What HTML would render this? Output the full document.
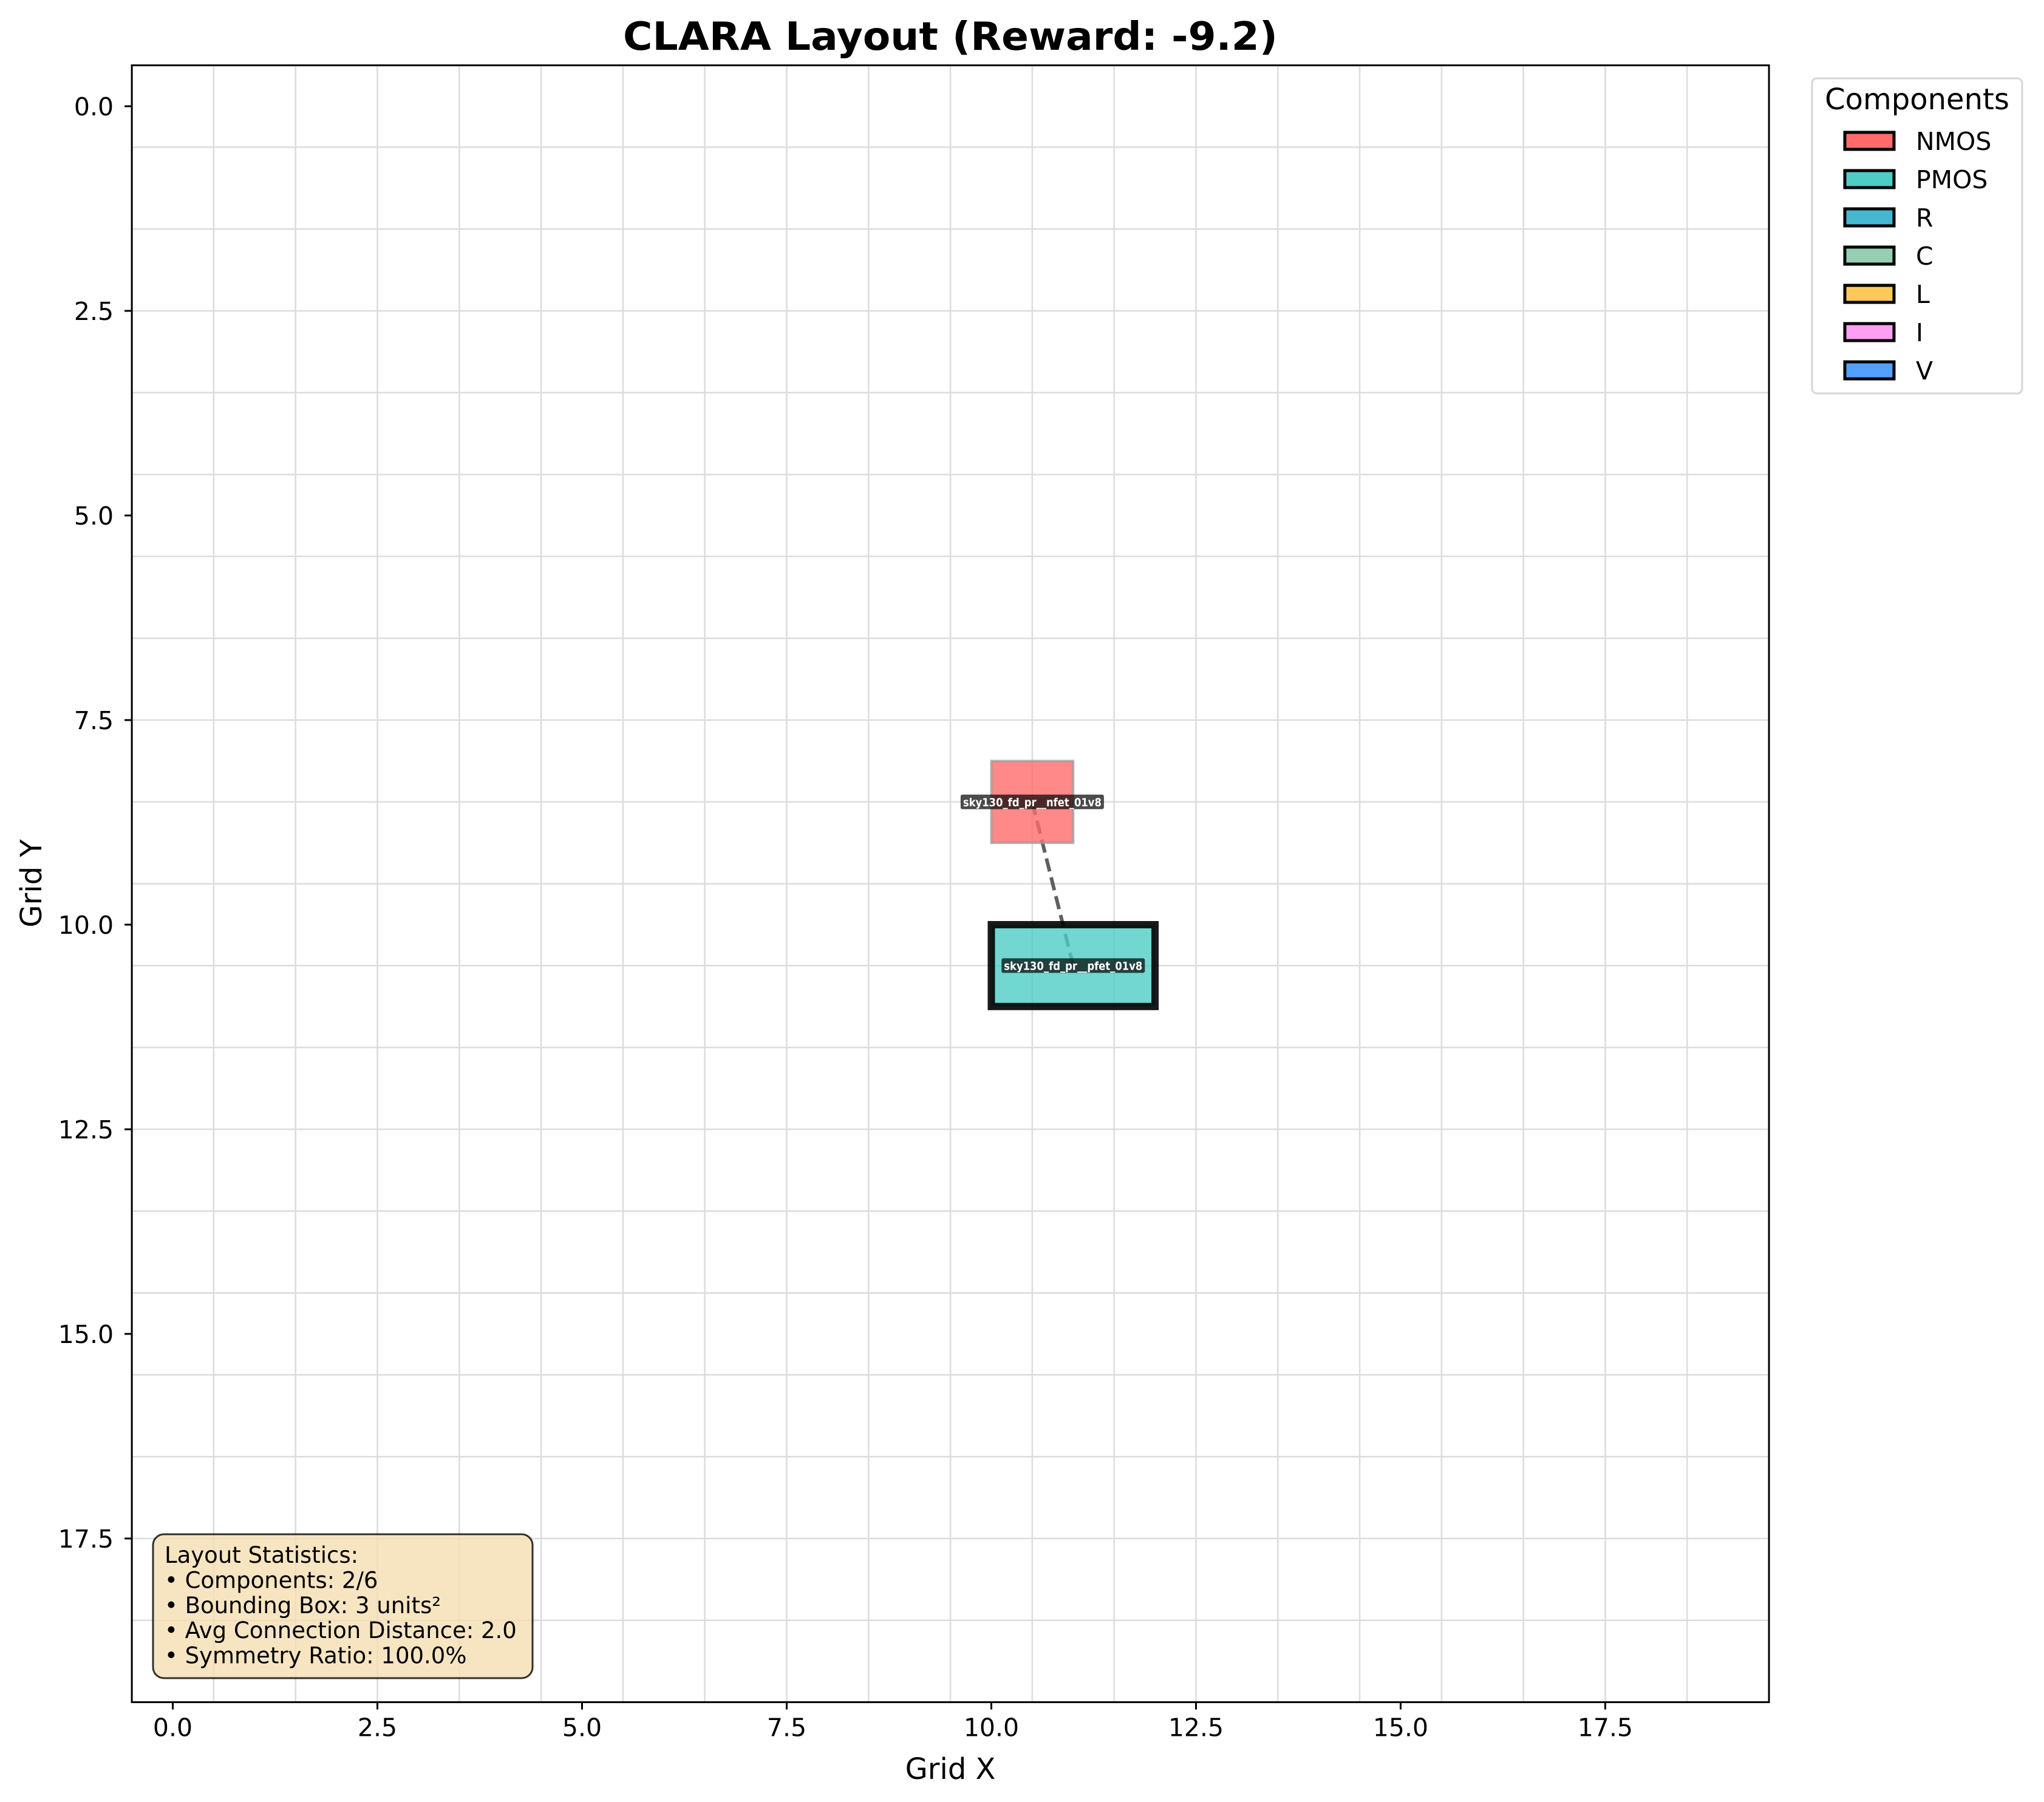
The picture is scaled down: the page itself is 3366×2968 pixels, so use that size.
<!DOCTYPE html>
<html><head><meta charset="utf-8"><style>
html,body{margin:0;padding:0;background:#fff}
svg{display:block;font-family:"DejaVu Sans","Liberation Sans",sans-serif}
</style></head><body>
<svg id="chart" width="3366" height="2968" viewBox="0 0 3366 2968" xmlns="http://www.w3.org/2000/svg">
<rect x="0" y="0" width="3366" height="2968" fill="#fff"/>
<g id="grid"></g>
<g id="marks"></g>
<g id="axes"></g>
<text x="1565" y="82" text-anchor="middle" font-size="64" font-weight="bold" textLength="1078" lengthAdjust="spacingAndGlyphs">CLARA Layout (Reward: -9.2)</text>
<text x="1565" y="2930" text-anchor="middle" font-size="48">Grid X</text>
<text x="0" y="0" transform="translate(68,1455) rotate(-90)" text-anchor="middle" font-size="48">Grid Y</text>
<g>
<rect x="252" y="2527" width="625" height="237" rx="18" fill="#f5deb3" fill-opacity="0.8" stroke="#000" stroke-opacity="0.8" stroke-width="3"/>
<text font-size="37" x="271" y="2574">
<tspan x="271" y="2574">Layout Statistics:</tspan>
<tspan x="271" dy="41.4">• Components: 2/6</tspan>
<tspan x="271" dy="41.4">• Bounding Box: 3 units²</tspan>
<tspan x="271" dy="41.4">• Avg Connection Distance: 2.0</tspan>
<tspan x="271" dy="41.4">• Symmetry Ratio: 100.0%</tspan>
</text>
</g>
<g id="legend">
<rect x="2984" y="129" width="346" height="519" rx="8" fill="#fff" stroke="#d6d6d6" stroke-width="3"/>
<text x="3157" y="180" text-anchor="middle" font-size="48">Components</text>
</g>
</svg>
<script>
const xTicks = [0, 2.5, 5, 7.5, 10, 12.5, 15, 17.5];
const yTicks = [0, 2.5, 5, 7.5, 10, 12.5, 15, 17.5];
const compNames = ["sky130_fd_pr__nfet_01v8", "sky130_fd_pr__pfet_01v8"];
const compX = [10, 10];
const compY = [8, 10];
const compW = [1, 2];
const compH = [1, 1];
const compColor = ["#ff6b6b", "#4ecdc4"];
const connFrom = [[10.5, 8.5]];
const connTo = [[11, 10.5]];
const legendLabels = ["NMOS", "PMOS", "R", "C", "L", "I", "V"];
const legendColors = ["#ff6b6b", "#4ecdc4", "#45b7d1", "#96ceb4", "#feca57", "#ff9ff3", "#54a0ff"];

const NS = "http://www.w3.org/2000/svg";
const X0 = 284.5, UX = 134.8, Y0 = 175, UY = 134.8;
const xmin = -0.5, xmax = 19.5, ymin = -0.5, ymax = 19.5;
const sx = v => X0 + v * UX;
const sy = v => Y0 + v * UY;
function mk(tag, attrs, parent) {
  const e = document.createElementNS(NS, tag);
  for (const k in attrs) e.setAttribute(k, attrs[k]);
  parent.appendChild(e);
  return e;
}
const grid = document.getElementById('grid');
const marks = document.getElementById('marks');
const axes = document.getElementById('axes');
const L = sx(xmin), R = sx(xmax), T = sy(ymin), B = sy(ymax);

for (let k = 0; k < 19; k++) {
  const v = k + 0.5;
  const gl = mk('line', {x1: sx(v), x2: sx(v), y1: T, y2: B, stroke: '#dcdcdc', 'stroke-width': 2.5}, grid);
  
  
  const gh = mk('line', {x1: L, x2: R, y1: sy(v), y2: sy(v), stroke: '#dcdcdc', 'stroke-width': 2.5}, grid);
  
  
}

for (let i = 0; i < connFrom.length; i++) {
  const ln = mk('line', {x1: sx(connFrom[i][0]), y1: sy(connFrom[i][1]), x2: sx(connTo[i][0]), y2: sy(connTo[i][1]),
    stroke: '#444', 'stroke-opacity': 0.85, 'stroke-width': 6, 'stroke-dasharray': '22 10'}, marks);
  
  
}

for (let i = 0; i < compNames.length; i++) {
  const thick = i === 1;
  const r = mk('rect', {x: sx(compX[i]), y: sy(compY[i]), width: compW[i] * UX, height: compH[i] * UY,
    fill: compColor[i], 'fill-opacity': 0.8,
    stroke: thick ? '#000' : '#999', 'stroke-opacity': thick ? 0.9 : 0.7, 'stroke-width': thick ? 12 : 4}, marks);
  
  
}
for (let i = 0; i < compNames.length; i++) {
  const cx = sx(compX[i] + compW[i] / 2), cy = sy(compY[i] + compH[i] / 2);
  const w = 236, h = 24;
  const bg = mk('rect', {x: cx - w / 2, y: cy - h / 2, width: w, height: h, rx: 3, fill: '#000', 'fill-opacity': 0.7}, marks);
  
  
  const t = mk('text', {x: cx, y: cy + 7, 'text-anchor': 'middle', 'font-size': 19, 'font-weight': 'bold', fill: '#fff',
    textLength: 228, lengthAdjust: 'spacingAndGlyphs'}, marks);
  t.textContent = compNames[i];
  
  
}

const sp = mk('rect', {x: L, y: T, width: R - L, height: B - T, fill: 'none', stroke: '#000', 'stroke-width': 3}, axes);



xTicks.forEach(v => {
  const tk = mk('line', {x1: sx(v), x2: sx(v), y1: B, y2: B + 12, stroke: '#000', 'stroke-width': 3}, axes);
  
  
  const t = mk('text', {x: sx(v), y: B + 56, 'text-anchor': 'middle', 'font-size': 41}, axes);
  t.textContent = v.toFixed(1);
  
  
});
yTicks.forEach(v => {
  const tk = mk('line', {x1: L - 12, x2: L, y1: sy(v), y2: sy(v), stroke: '#000', 'stroke-width': 3}, axes);
  
  
  const t = mk('text', {x: L - 30, y: sy(v) + 15, 'text-anchor': 'end', 'font-size': 41}, axes);
  t.textContent = v.toFixed(1);
  
  
});

const leg = document.getElementById('legend');
legendLabels.forEach((lab, i) => {
  const cy = 232 + i * 63;
  const p = mk('rect', {x: 3038, y: cy - 14, width: 81, height: 28, fill: legendColors[i], stroke: '#000', 'stroke-width': 5}, leg);
  
  
  const t = mk('text', {x: 3155, y: cy + 15, 'font-size': 41}, leg);
  t.textContent = lab;
  
  
});
</script>
</body></html>
